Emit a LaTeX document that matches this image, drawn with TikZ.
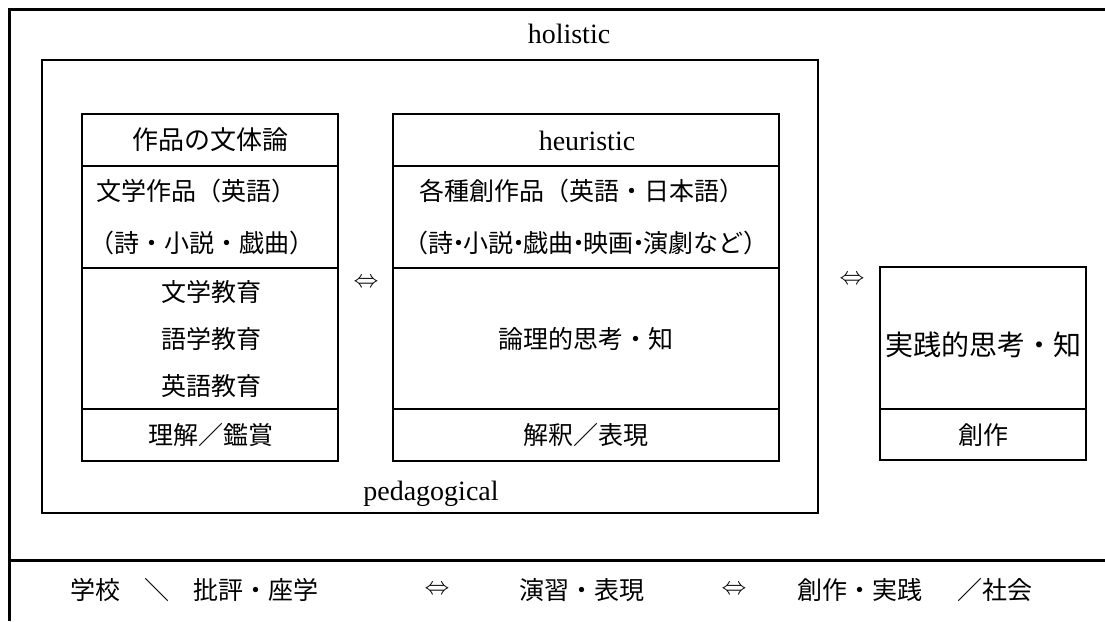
\documentclass[tikz,border=0pt]{standalone}
\usepackage{fontspec}
\setmainfont{Liberation Serif}
\newfontfamily\jp{Noto Sans CJK JP}
\newcommand\nd{\kern-.3em・\kern-.3em}
\begin{document}
\begin{tikzpicture}[x=1pt,y=-1pt,
  frame/.style={line width=3pt},
  boxl/.style={draw,line width=2.6pt},
  divl/.style={line width=1.5pt},
  jt/.style={font=\jp\fontsize{25}{30}\selectfont,inner sep=0pt},
  lt/.style={font=\fontsize{28}{32}\selectfont,inner sep=0pt,anchor=base},
  ar/.style={font=\fontsize{28}{32}\selectfont,inner sep=0pt}]
\useasboundingbox (0,0) rectangle (1105,621);
% outer frame
\draw[frame] (1105,9) -- (9,9) -- (9,621);
\draw[frame] (9,560) -- (1105,560);
\node[lt] (hol) at (569,43) {holistic};
% pedagogical box
\draw[boxl] (42,60) rectangle (818,513);
\node[lt] (ped) at (431,500) {pedagogical};
% left box
\draw[boxl] (82,114) rectangle (338,461);
\draw[divl] (82,166) -- (338,166) (82,268) -- (338,268) (82,409) -- (338,409);
\node[jt,font=\jp\fontsize{26}{30}\selectfont] (l1) at (210,140) {作品の文体論};
\node[jt] (l2) at (196,191) {文学作品（英語）};
\node[jt] (l3) at (202,243) {（詩・小説・戯曲）};
\node[jt] (l4) at (211,292) {文学教育};
\node[jt] (l5) at (211,339) {語学教育};
\node[jt] (l6) at (211,386) {英語教育};
\node[jt] (l7) at (211,435) {理解／鑑賞};
% arrow 1
\node[ar] (a1) at (366,283) {$\Leftrightarrow$};
% middle box
\draw[boxl] (393,114) rectangle (779,461);
\draw[divl] (393,166) -- (779,166) (393,268) -- (779,268) (393,409) -- (779,409);
\node[lt] (m1) at (587,150) {heuristic};
\node[jt] (m2) at (582,191) {各種創作品（英語・日本語）};
\node[jt] (m3) at (586,243) {（詩\nd 小説\nd 戯曲\nd 映画\nd 演劇など）};
\node[jt] (m4) at (586,339) {論理的思考・知};
\node[jt] (m5) at (586,435) {解釈／表現};
% arrow 2
\node[ar] (a2) at (852,280) {$\Leftrightarrow$};
% right box
\draw[boxl] (880,267) rectangle (1086,460);
\draw[divl] (880,409) -- (1086,409);
\node[jt,font=\jp\fontsize{28}{32}\selectfont] (r1) at (983,345) {実践的思考・知};
\node[jt] (r2) at (983,435) {創作};
% bottom row
\node[jt] (b1) at (95,590) {学校};
\node[jt] (b2) at (157,590) {＼};
\node[jt] (b3) at (256,590) {批評・座学};
\node[ar] (b4) at (437,590) {$\Leftrightarrow$};
\node[jt] (b5) at (582,590) {演習・表現};
\node[ar] (b6) at (734,590) {$\Leftrightarrow$};
\node[jt] (b7) at (860,590) {創作・実践};
\node[jt] (b8) at (995,590) {／社会};
\end{tikzpicture}
\end{document}
